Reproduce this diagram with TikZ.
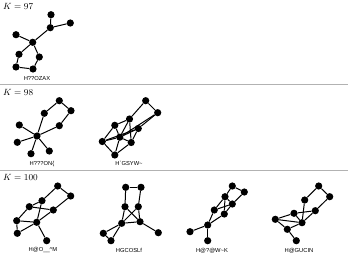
\documentclass[tikz,border=0pt]{standalone}
\usepackage{fontspec}
\newfontfamily\lab{Liberation Sans}
\begin{document}
\begin{tikzpicture}[x=1pt,y=-1pt,
  v/.style={circle,fill=black,inner sep=0pt,minimum size=7.2pt},
  ed/.style={line width=1pt},
  lbl/.style={font=\lab\fontsize{5.8}{7}\selectfont, inner sep=0pt},
  hdr/.style={anchor=west, inner sep=0pt, font=\fontsize{9.5}{11}\selectfont},
  sepline/.style={draw=black!30, line width=1.2pt}]
\useasboundingbox (0,0) rectangle (348,257);
% headers and separators
\node[hdr] (k97) at (3,6.5) {$K = 97$};
\node[hdr] (k98) at (3,92) {$K = 98$};
\node[hdr] (k100) at (3,177.5) {$K = 100$};
\draw[sepline] (0,84.5) -- (348,84.5);
\draw[sepline] (0,170.5) -- (348,170.5);
% G1
\foreach \n/\x/\y in {g1a/51/14.7, g1b/50.3/27.7, g1c/70.3/23, g1d/32.7/42.3, g1e/16/34.7, g1f/19/54.3, g1g/39.3/57, g1h/16/67, g1i/33/69}
  \node[v] (\n) at (\x,\y) {};
\foreach \u/\w in {a/b, b/c, b/d, d/e, d/f, d/g, f/h, h/i, i/g}
  \draw[ed] (g1\u) -- (g1\w);
\node[lbl] (l1) at (37,78.3) {H??OZAX};
% G2
\foreach \n/\x/\y in {g2a/59.3/100.7, g2b/71/110.7, g2c/44.3/113.3, g2d/59.3/125.7, g2e/19.3/125, g2f/37/136, g2g/17.3/142.3, g2h/31/153.7, g2i/49.3/151}
  \node[v] (\n) at (\x,\y) {};
\foreach \u/\w in {a/b, a/c, b/d, c/f, d/f, e/f, g/f, h/f, i/f}
  \draw[ed] (g2\u) -- (g2\w);
\node[lbl] (l2) at (42,164) {H???ON\{};
% G3
\foreach \n/\x/\y in {g3a/145.7/100.7, g3b/157.7/112.7, g3c/129.5/119, g3d/114.8/125.3, g3e/138.3/128.5, g3f/119.8/137.2, g3g/102.3/141.5, g3h/131.2/142.5, g3i/114.8/155}
  \node[v] (\n) at (\x,\y) {};
\foreach \u/\w in {a/b, b/e, e/h, h/i, i/g, g/d, d/c, c/a, g/e, c/h, f/b, f/c, f/d, f/e, f/g, f/h, f/i}
  \draw[ed] (g3\u) -- (g3\w);
\node[lbl] (l3) at (129,163.5) {H\textasciigrave GSYW\textasciitilde};
% G4
\foreach \n/\x/\y in {g4a/57.7/186, g4b/70.7/196, g4c/42/200.7, g4d/29.3/206.7, g4e/53.3/210, g4f/16.7/220.7, g4g/36.7/222.3, g4h/17.3/233.3, g4i/46.7/240.7}
  \node[v] (\n) at (\x,\y) {};
\foreach \u/\w in {a/b, b/e, a/c, c/d, d/f, f/h, h/g, f/g, g/i, c/g, d/e, e/g}
  \draw[ed] (g4\u) -- (g4\w);
\node[lbl] (l4) at (43,250.3) {H@O\_\_\textasciicircum M};
% G5
\foreach \n/\x/\y in {g5a/125.7/187.3, g5b/141/187.3, g5c/125/206.7, g5d/138.3/206.7, g5e/121.7/223.3, g5f/140/221.7, g5g/103.3/233.3, g5h/111/240.7, g5i/158.3/232.7}
  \node[v] (\n) at (\x,\y) {};
\foreach \u/\w in {a/b, a/c, b/d, c/e, c/f, d/e, d/f, e/f, e/g, e/h, g/h, f/i}
  \draw[ed] (g5\u) -- (g5\w);
\node[lbl] (l5) at (129,250.3) {HGCOSLf};
% G6
\foreach \n/\x/\y in {g6a/232.3/186, g6b/244.3/192, g6c/225/196.7, g6d/232.3/204, g6e/214.3/210, g6f/224.3/214, g6g/207.7/225, g6h/190/231.7, g6i/207.7/240.7}
  \node[v] (\n) at (\x,\y) {};
\foreach \u/\w in {a/b, a/c, b/d, c/d, c/e, c/f, d/e, d/f, e/g, f/g, g/h, g/i}
  \draw[ed] (g6\u) -- (g6\w);
\node[lbl] (l6) at (212,250.3) {H@?@W\textasciitilde K};
% G7
\foreach \n/\x/\y in {g7a/318.7/186, g7b/329.7/196.7, g7c/304.7/200, g7d/315.3/210.7, g7e/294/213.3, g7f/275.3/219.3, g7g/302/222.7, g7h/287.3/229.3, g7i/296.3/240.7}
  \node[v] (\n) at (\x,\y) {};
\foreach \u/\w in {a/b, a/c, b/d, c/g, d/e, d/g, e/g, e/f, f/g, f/h, g/h, h/i}
  \draw[ed] (g7\u) -- (g7\w);
\node[lbl] (l7) at (299,250.3) {H@GUCIN};
\end{tikzpicture}
\end{document}
